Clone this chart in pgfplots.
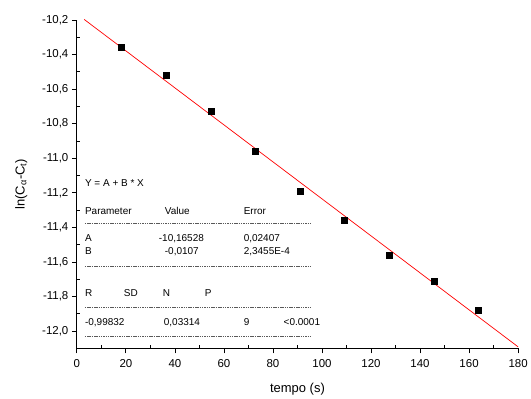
\documentclass[border=0pt]{standalone}
\usepackage{pgfplots}
\pgfplotsset{compat=1.18}
\usepackage{fontspec}
\setmainfont{Liberation Sans}
\begin{document}
\begin{tikzpicture}
\begin{axis}[
  scale only axis, width=442pt, height=329pt,
  xmin=0, xmax=180, ymin=-12.1, ymax=-10.2,
  axis lines=left, axis line style={-, line width=0.9pt},
  xtick={0,20,...,180}, ytick={-12.0,-11.8,...,-10.1},
  minor x tick num=1, minor y tick num=1,
  tick align=outside,
  major tick length=5pt, minor tick length=3pt,
  every tick/.style={black, line width=0.8pt},
  minor x tick style={yshift=3pt},
  minor y tick style={xshift=3pt},
  /pgf/number format/assume math mode=true,
  /pgf/number format/use comma,
  yticklabel style={/pgf/number format/fixed, /pgf/number format/zerofill, /pgf/number format/precision=1},
  xticklabel style={/pgf/number format/fixed, /pgf/number format/precision=0, yshift=-3pt},
  tick label style={font=\fontsize{11.5}{13}\selectfont},
  xlabel={tempo (s)}, ylabel={ln(C\textsubscript{α}-C\textsubscript{t})},
  label style={font=\fontsize{13}{15}\selectfont},
  xlabel style={yshift=-8pt},
  ylabel style={yshift=8pt},
  clip=false,
]
\addplot[only marks, mark=square*, mark size=3pt, black] coordinates {
(18.2,-10.36) (36.4,-10.52) (54.6,-10.73) (72.8,-10.96) (91,-11.19)
(109.2,-11.36) (127.4,-11.56) (145.6,-11.71) (163.8,-11.88)};
\addplot[red, line width=0.7pt] coordinates {(3,-10.197) (180,-12.091)};
\end{axis}
\begin{scope}[shift={(current axis.south west)}, every node/.style={font=\fontsize{10}{12}\selectfont, anchor=mid west, inner sep=0pt}]
\node at (8pt,165pt) {Y = A + B * X};
\node at (8pt,137pt) {Parameter};
\node at (88pt,137pt) {Value};
\node at (167pt,137pt) {Error};
\node at (8pt,110pt) {A};
\node at (82pt,110pt) {-10,16528};
\node at (167pt,110pt) {0,02407};
\node at (8pt,97pt) {B};
\node at (88pt,97pt) {-0,0107};
\node at (167pt,97pt) {2,3455E-4};
\node at (8pt,55pt) {R};
\node at (47pt,55pt) {SD};
\node at (86pt,55pt) {N};
\node at (128pt,55pt) {P};
\node at (8pt,26pt) {-0,99832};
\node at (87pt,26pt) {0,03314};
\node at (167pt,26pt) {9};
\node at (207pt,26pt) {<0.0001};
\foreach \yy in {125,82,41,12} {
  \draw[gray!70!black, line width=0.4pt, dash pattern=on 1.5pt off 0.8pt] (8pt,\yy pt) -- (235pt,\yy pt);
}
\path[use as bounding box] (-77pt,-50pt) rectangle (454pt,349pt);
\end{scope}
\end{tikzpicture}
\end{document}
